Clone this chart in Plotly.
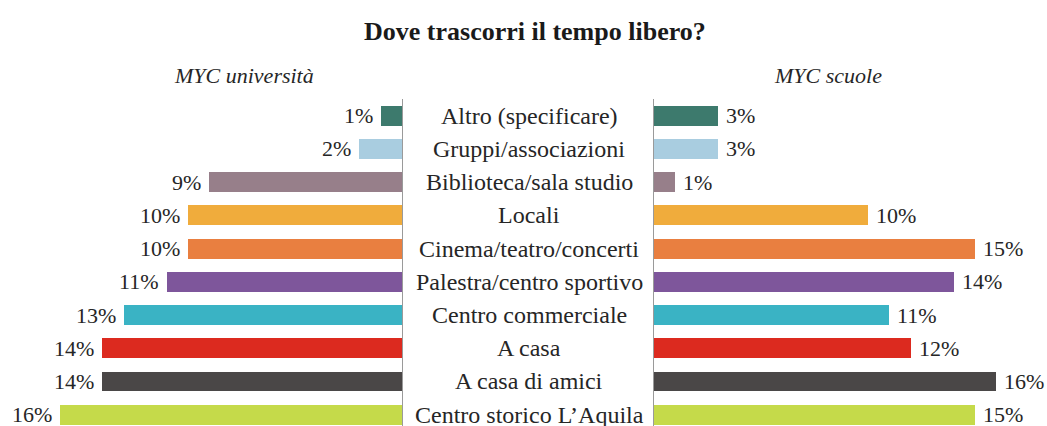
import plotly.graph_objects as go

categories = [
    "Altro (specificare)",
    "Gruppi/associazioni",
    "Biblioteca/sala studio",
    "Locali",
    "Cinema/teatro/concerti",
    "Palestra/centro sportivo",
    "Centro commerciale",
    "A casa",
    "A casa di amici",
    "Centro storico L\u2019Aquila",
]
universita = [1, 2, 9, 10, 10, 11, 13, 14, 14, 16]
scuole = [3, 3, 1, 10, 15, 14, 11, 12, 16, 15]
colors = ["#3d7a6d", "#a9cde0", "#977f8a", "#f0ac3c", "#e97f40",
          "#7e569b", "#3ab3c4", "#dc2a1f", "#4a4747", "#c5da4a"]

title = "Dove trascorri il tempo libero?"
left_label = "MYC università"
right_label = "MYC scuole"

W, H = 1047, 426
TOP = 99
PH = H - TOP
FONT = "Liberation Serif, Times New Roman, serif"
TXT = "#262626"


def py(pix):
    # convert a pixel row (from the top of the figure) into paper coordinates
    return (H - pix) / PH


fig = go.Figure()
fig.add_trace(go.Bar(y=categories, x=universita, orientation="h",
                     marker=dict(color=colors, line=dict(width=0)),
                     width=0.6, xaxis="x", yaxis="y", hoverinfo="x+y"))
fig.add_trace(go.Bar(y=categories, x=scuole, orientation="h",
                     marker=dict(color=colors, line=dict(width=0)),
                     width=0.6, xaxis="x2", yaxis="y2", hoverinfo="x+y"))

ann = []
for c, v in zip(categories, universita):
    ann.append(dict(x=v, y=c, xref="x", yref="y", text=f"{v}%", showarrow=False,
                    xanchor="right", xshift=-6, font=dict(family=FONT, size=22, color=TXT)))
for c, v in zip(categories, scuole):
    ann.append(dict(x=v, y=c, xref="x2", yref="y2", text=f"{v}%", showarrow=False,
                    xanchor="left", xshift=6, font=dict(family=FONT, size=22, color=TXT)))
for c in categories:
    ann.append(dict(x=529 / W, y=c, xref="paper", yref="y", text=c, showarrow=False,
                    xanchor="center", font=dict(family=FONT, size=24, color=TXT)))
ann.append(dict(x=244 / W, y=py(75), xref="paper", yref="paper", text=f"<i>{left_label}</i>",
                showarrow=False, xanchor="center", yanchor="middle",
                font=dict(family=FONT, size=22, color=TXT)))
ann.append(dict(x=828 / W, y=py(75), xref="paper", yref="paper", text=f"<i>{right_label}</i>",
                showarrow=False, xanchor="center", yanchor="middle",
                font=dict(family=FONT, size=22, color=TXT)))
ann.append(dict(x=535 / W, y=py(31), xref="paper", yref="paper", text=f"<b>{title}</b>",
                showarrow=False, xanchor="center", yanchor="middle",
                font=dict(family=FONT, size=26, color="#1a1a1a")))

yrange = [9.34, -0.5]
fig.update_layout(
    width=W, height=H,
    margin=dict(l=0, r=0, t=TOP, b=0),
    paper_bgcolor="white", plot_bgcolor="white",
    showlegend=False,
    bargap=0,
    annotations=ann,
    xaxis=dict(domain=[0, 402 / W], range=[18.79, 0], showgrid=False, zeroline=False,
               showticklabels=False, showline=False, fixedrange=True),
    xaxis2=dict(domain=[654 / W, 1], range=[0, 18.36], showgrid=False, zeroline=False,
                showticklabels=False, showline=False, anchor="y2", fixedrange=True),
    yaxis=dict(type="category", categoryarray=categories, categoryorder="array",
               range=yrange, showgrid=False, zeroline=False, showticklabels=False,
               showline=True, linecolor="#9a9a9a", linewidth=1, side="right", anchor="x"),
    yaxis2=dict(type="category", categoryarray=categories, categoryorder="array",
                range=yrange, showgrid=False, zeroline=False, showticklabels=False,
                showline=True, linecolor="#9a9a9a", linewidth=1, side="left", anchor="x2"),
)

fig.write_html("out.html")
